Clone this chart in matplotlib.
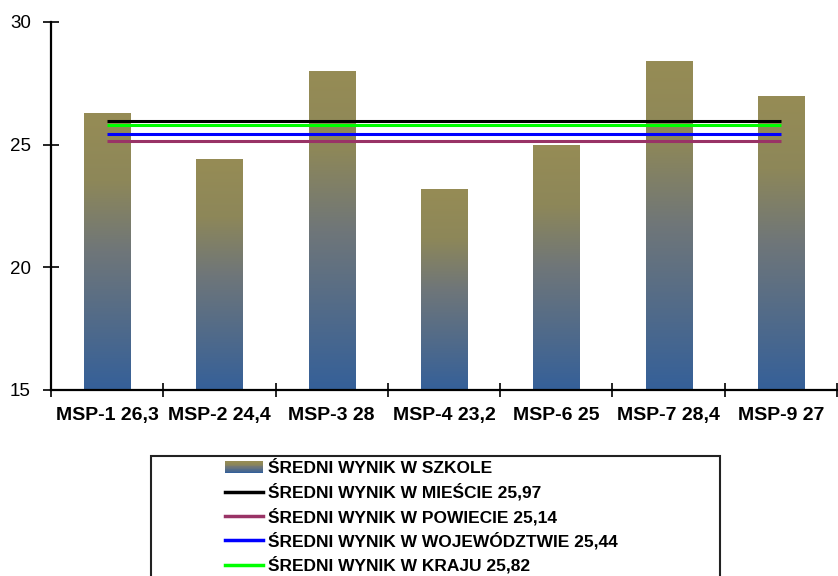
import numpy as np
import matplotlib
matplotlib.use('Agg')
import matplotlib.pyplot as plt
from matplotlib.colors import LinearSegmentedColormap
from matplotlib.patches import Rectangle
from matplotlib.lines import Line2D
from matplotlib.legend_handler import HandlerBase

# data
schools = ['MSP-1 26,3', 'MSP-2 24,4', 'MSP-3 28', 'MSP-4 23,2', 'MSP-6 25', 'MSP-7 28,4', 'MSP-9 27']
school_scores = [26.3, 24.4, 28.0, 23.2, 25.0, 28.4, 27.0]

avg_labels = ['ŚREDNI WYNIK W MIEŚCIE 25,97', 'ŚREDNI WYNIK W POWIECIE 25,14',
              'ŚREDNI WYNIK W WOJEWÓDZTWIE 25,44', 'ŚREDNI WYNIK W KRAJU 25,82']
avg_values = [25.97, 25.14, 25.44, 25.82]
avg_colors = ['black', '#993366', '#0000ff', '#00ff00']
bar_label = 'ŚREDNI WYNIK W SZKOLE'

plt.rcParams['font.family'] = ['Liberation Sans', 'DejaVu Sans']

grad = LinearSegmentedColormap.from_list(
    'excel', [(0.0, '#356099'), (0.5, '#6f7679'), (0.75, '#8d8759'), (1.0, '#968c55')])


class GradientHandler(HandlerBase):
    def create_artists(self, legend, orig_handle, xdescent, ydescent,
                       width, height, fontsize, trans):
        n = 16
        arts = []
        for i in range(n):
            arts.append(Rectangle((-xdescent, -ydescent + height * i / n), width,
                                  height / n * 1.05, facecolor=grad(i / (n - 1)),
                                  edgecolor='none', transform=trans))
        return arts


fig = plt.figure(figsize=(8.38, 5.76), dpi=100)
ax = fig.add_axes([51 / 838, 1 - 390 / 576, 786 / 838, 368 / 576])

x = np.arange(len(schools))
ymin, ymax = 15, 30
bars = ax.bar(x, school_scores, width=0.41, facecolor='none', edgecolor='none')
img = np.linspace(1, 0, 256).reshape(-1, 1)
for b, v in zip(bars, school_scores):
    im = ax.imshow(img, cmap=grad, vmin=0, vmax=1, aspect='auto', zorder=2,
                   extent=[b.get_x(), b.get_x() + b.get_width(), ymin, v])
    im.set_clip_path(b)

for v, c in zip(avg_values, avg_colors):
    ax.plot([x[0], x[-1]], [v, v], color=c, lw=2.2, zorder=3, solid_capstyle='butt')

ax.set_xlim(-0.5, len(schools) - 0.5)
ax.set_ylim(ymin, ymax)
ax.set_yticks([15, 20, 25, 30])
ax.set_xticks(np.arange(-0.5, len(schools)), labels=[''] * (len(schools) + 1))
ax.set_xticks(x, labels=schools, minor=True)
ax.tick_params(axis='x', which='major', direction='inout', length=10, width=1.2)
ax.tick_params(axis='x', which='minor', length=0, pad=12, labelsize=14)
ax.tick_params(axis='y', direction='inout', length=12, width=1.2, pad=8.5, labelsize=13.5)
for lab in ax.get_xticklabels(minor=True):
    lab.set_fontweight('bold')

for s in ['top', 'right']:
    ax.spines[s].set_visible(False)
for s in ['left', 'bottom']:
    ax.spines[s].set_linewidth(1.6)

# legend frame (runs off the bottom of the figure, like the original)
fig.patches.append(Rectangle((151 / 838, -0.05), (720 - 151) / 838, 1 - 456 / 576 + 0.05,
                             transform=fig.transFigure, facecolor='white',
                             edgecolor='#222222', lw=1.5, zorder=0))

handles = [Rectangle((0, 0), 1, 1)] + [Line2D([], [], color=c, lw=2.5) for c in avg_colors]
leg = fig.legend(handles, [bar_label] + avg_labels, loc='upper left',
                 bbox_to_anchor=(225 / 838, 1 - 461 / 576), bbox_transform=fig.transFigure,
                 frameon=False, borderpad=0, borderaxespad=0,
                 prop={'weight': 'bold', 'size': 12.5},
                 handlelength=2.2, handletextpad=0.25, labelspacing=0.4,
                 handler_map={Rectangle: GradientHandler()})

fig.savefig('out.png', dpi=100)
